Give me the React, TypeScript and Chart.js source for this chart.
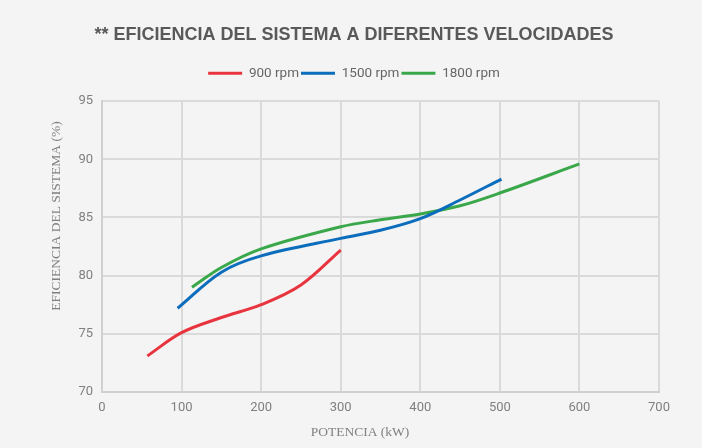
import React, { useEffect, useRef } from 'react';
import { Chart, registerables } from 'chart.js';

Chart.register(...registerables);

const chartTitle = '** EFICIENCIA DEL SISTEMA A DIFERENTES VELOCIDADES';
const xAxisTitle = 'POTENCIA (kW)';
const yAxisTitle = 'EFICIENCIA DEL SISTEMA (%)';

const seriesNames = ['900 rpm', '1500 rpm', '1800 rpm'];
const seriesColors = ['#e8343e', '#0b6dbb', '#3aa84a'];

const rpm900Power = [57, 100, 150, 200, 250, 300];
const rpm900Eff = [73.1, 75.1, 76.4, 77.5, 79.2, 82.2];

const rpm1500Power = [95, 150, 200, 300, 350, 400, 450, 502];
const rpm1500Eff = [77.2, 80.3, 81.7, 83.2, 83.9, 84.9, 86.5, 88.3];

const rpm1800Power = [113, 150, 200, 300, 350, 400, 450, 500, 600];
const rpm1800Eff = [79.0, 80.7, 82.3, 84.2, 84.8, 85.3, 86.0, 87.1, 89.6];

const xMin = 0;
const xMax = 700;
const xStep = 100;
const yMin = 70;
const yMax = 95;
const yStep = 5;

const toPoints = (xs: number[], ys: number[]) => xs.map((x, i) => ({ x, y: ys[i] }));

export default function App() {
  const ref = useRef<HTMLCanvasElement | null>(null);

  useEffect(() => {
    if (!ref.current) return;
    const seriesData = [
      toPoints(rpm900Power, rpm900Eff),
      toPoints(rpm1500Power, rpm1500Eff),
      toPoints(rpm1800Power, rpm1800Eff),
    ];

    const legendGap = {
      id: 'legendGap',
      beforeInit(chart: any) {
        const legend = chart.legend;
        if (!legend) return;
        const origFit = legend.fit;
        legend.fit = function () {
          origFit.bind(legend)();
          this.height += 11;
        };
      },
    };

    const axisTitles = {
      id: 'axisTitles',
      afterDraw(chart: any) {
        const ctx = chart.ctx;
        ctx.save();
        ctx.fillStyle = '#808080';
        ctx.font = '13.5px "Liberation Serif", "Times New Roman", serif';
        ctx.textAlign = 'center';
        ctx.textBaseline = 'middle';
        ctx.fillText(xAxisTitle, 360, 432);
        ctx.translate(56, 216);
        ctx.rotate(-Math.PI / 2);
        ctx.fillText(yAxisTitle, 0, 0);
        ctx.restore();
      },
    };

    const chart = new Chart(ref.current, {
      type: 'line',
      data: {
        datasets: seriesData.map((d, i) => ({
          label: seriesNames[i],
          data: d,
          borderColor: seriesColors[i],
          backgroundColor: seriesColors[i],
          borderWidth: 3,
          pointRadius: 0,
          pointHoverRadius: 0,
          fill: false,
          tension: 0.35,
          borderCapStyle: 'butt' as const,
        })),
      },
      options: {
        responsive: false,
        animation: false,
        events: [],
        layout: { padding: { left: 6, right: 0, top: 0, bottom: 0 } },
        plugins: {
          title: {
            display: true,
            text: chartTitle,
            color: '#595959',
            font: { family: '"Liberation Sans", Arial, sans-serif', size: 18, weight: 'bold' },
            padding: { top: 24, bottom: 19 },
          },
          legend: {
            display: true,
            position: 'top',
            labels: {
              usePointStyle: true,
              pointStyle: 'line',
              pointStyleWidth: 34,
              padding: 2,
              color: '#666666',
              font: { family: 'Roboto, sans-serif', size: 13.5 },
            },
          },
          tooltip: { enabled: false },
        },
        scales: {
          x: {
            type: 'linear',
            min: xMin,
            max: xMax,
            ticks: {
              stepSize: xStep,
              color: '#808080',
              padding: 8,
              font: { family: 'Roboto, sans-serif', size: 13 },
            },
            grid: { color: '#dadada', lineWidth: 2, drawTicks: false },
            border: { display: true, color: '#d0d0d0', width: 2 },
            afterFit(scale: any) {
              scale.height = 56;
            },
          },
          y: {
            type: 'linear',
            min: yMin,
            max: yMax,
            ticks: {
              stepSize: yStep,
              color: '#808080',
              padding: 9,
              font: { family: 'Roboto, sans-serif', size: 13 },
            },
            grid: { color: '#dadada', lineWidth: 2, drawTicks: false },
            border: { display: true, color: '#d0d0d0', width: 2 },
            afterFit(scale: any) {
              scale.width = 96;
            },
          },
          yRight: {
            type: 'linear',
            position: 'right',
            display: true,
            min: yMin,
            max: yMax,
            ticks: { display: false },
            grid: { display: false, drawTicks: false },
            border: { display: false },
            afterFit(scale: any) {
              scale.width = 43;
            },
          },
        },
      },
      plugins: [legendGap, axisTitles],
    } as any);

    return () => chart.destroy();
  }, []);

  return (
    <div style={{ position: 'fixed', left: 0, top: 0, width: 702, height: 448, background: '#f4f4f4' }}>
      <canvas ref={ref} width={702} height={448} style={{ display: 'block' }} />
    </div>
  );
}
